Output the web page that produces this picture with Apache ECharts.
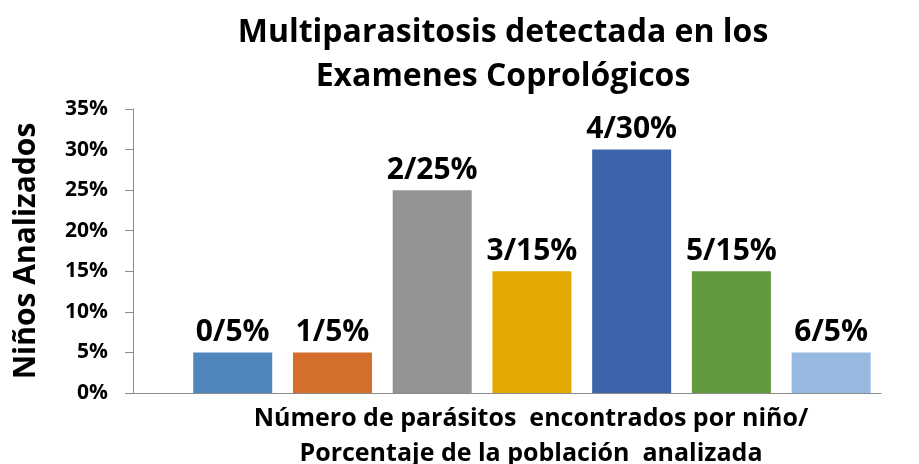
<!DOCTYPE html>
<html>
<head>
<meta charset="utf-8">
<script src="https://cdn.jsdelivr.net/npm/echarts@6/dist/echarts.min.js"></script>
<style>
  html, body { margin: 0; padding: 0; background: #fff; }
  #chart { width: 919px; height: 464px; }
</style>
</head>
<body>
<div id="chart"></div>
<script>
// parasitos por niño (categorías) y porcentaje de la población
const parasiteCounts = [0, 1, 2, 3, 4, 5, 6];
const populationPct = [5, 5, 25, 15, 30, 15, 5];
const barColors = ['#4f87bd', '#d36e2c', '#939393', '#e2aa00', '#3d64ab', '#619a3f', '#98b9df'];
const yTicks = [0, 5, 10, 15, 20, 25, 30, 35];

const titleText = 'Multiparasitosis detectada en los\nExamenes Coprológicos';
const xName = 'Número de parásitos  encontrados por niño/\nPorcentaje de la población  analizada';
const yName = 'Niños Analizados';

const font = 'Open Sans';

const chart = echarts.init(document.getElementById('chart'));

chart.setOption({
    animation: false,
    title: {
        text: titleText,
        left: 498,
        top: 6,
        textAlign: 'center',
        textStyle: {
            fontFamily: font,
            fontWeight: 'bold',
            fontSize: 32,
            lineHeight: 44,
            color: '#000'
        }
    },
    grid: {
        left: 133,
        right: 38,
        top: 109,
        bottom: 71,
        containLabel: false,
        outerBoundsMode: 'none'
    },
    xAxis: {
        type: 'value',
        min: -1,
        max: 6.5,
        name: xName,
        nameLocation: 'middle',
        nameGap: 8,
        nameTextStyle: {
            verticalAlign: 'top',
            fontFamily: font,
            fontWeight: 'bold',
            fontSize: 25,
            lineHeight: 35,
            color: '#000',
            padding: [0, 0, 0, 48]
        },
        axisLine: { show: true, onZero: false, lineStyle: { color: '#8c8c8c', width: 1 } },
        axisTick: { show: false },
        axisLabel: { show: false },
        splitLine: { show: false }
    },
    yAxis: {
        type: 'value',
        min: yTicks[0] / 100,
        max: yTicks[yTicks.length - 1] / 100,
        interval: 0.05,
        name: yName,
        nameLocation: 'middle',
        nameRotate: 90,
        nameGap: 92,
        nameTextStyle: {
            fontFamily: font,
            fontWeight: 'bold',
            fontSize: 30,
            color: '#000'
        },
        axisLine: { show: true, onZero: false, lineStyle: { color: '#8c8c8c', width: 1 } },
        axisTick: { show: true, length: 8, lineStyle: { color: '#8c8c8c' } },
        axisLabel: {
            fontFamily: font,
            fontWeight: 'bold',
            fontSize: 21,
            color: '#000',
            margin: 25,
            formatter: v => Math.round(v * 100) + '%'
        },
        splitLine: { show: false }
    },
    series: [{
        type: 'bar',
        barWidth: 79,
        data: parasiteCounts.map((c, i) => ({
            value: [c, populationPct[i] / 100],
            itemStyle: { color: barColors[i] }
        })),
        label: {
            show: true,
            position: 'top',
            distance: 5,
            fontFamily: font,
            fontWeight: 'bold',
            fontSize: 30,
            color: '#000',
            formatter: p => parasiteCounts[p.dataIndex] + '/' + populationPct[p.dataIndex] + '%'
        }
    }]
});
</script>
</body>
</html>
